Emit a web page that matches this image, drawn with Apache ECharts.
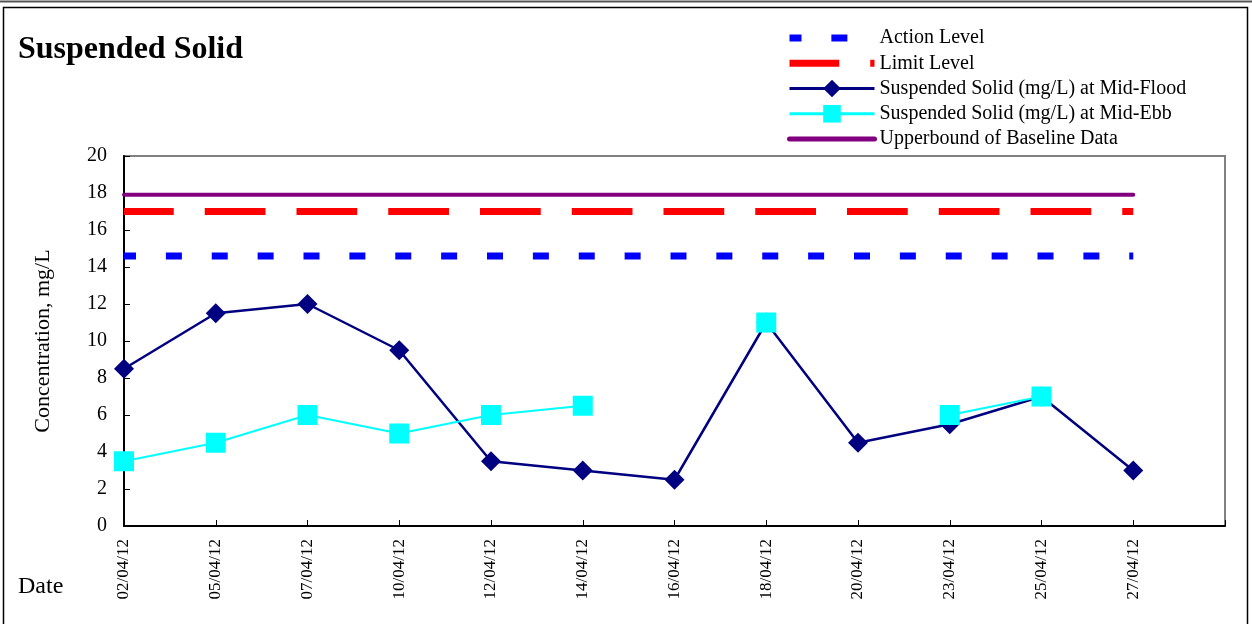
<!DOCTYPE html>
<html>
<head>
<meta charset="utf-8">
<script src="https://cdn.jsdelivr.net/npm/echarts@6/dist/echarts.min.js"></script>
<style>
html,body{margin:0;padding:0;background:#fff;}
#c{width:1252px;height:624px;}
</style>
</head>
<body>
<div id="c"></div>
<script>
var dates = ['02/04/12','05/04/12','07/04/12','10/04/12','12/04/12','14/04/12','16/04/12','18/04/12','20/04/12','23/04/12','25/04/12','27/04/12',''];
var floodValues = [8.5, 11.5, 12, 9.5, 3.5, 3, 2.5, 11, 4.5, 5.5, 7, 3];
var ebbValues = [3.5, 4.5, 6, 5, 6, 6.5, null, 11, null, 6, 7, null];
var actionLevel = [14.6,14.6,14.6,14.6,14.6,14.6,14.6,14.6,14.6,14.6,14.6,14.6];
var limitLevel = [17,17,17,17,17,17,17,17,17,17,17,17];
var baselineUpper = [17.9,17.9,17.9,17.9,17.9,17.9,17.9,17.9,17.9,17.9,17.9,17.9];
var yTicks = {min: 0, max: 20, interval: 2};

var serif = "'Liberation Serif', 'DejaVu Serif', serif";
var chart = echarts.init(document.getElementById('c'));
chart.setOption({
  animation: false,
  backgroundColor: '#fff',
  textStyle: {fontFamily: serif},
  graphic: [
    {type: 'line', shape: {x1: 0, y1: 1.5, x2: 1252, y2: 1.5}, style: {stroke: '#555', lineWidth: 2}, silent: true},
    {type: 'rect', shape: {x: 3.5, y: 7.5, width: 1244, height: 640}, style: {fill: 'none', stroke: '#000', lineWidth: 1.5}, silent: true}
  ],
  title: [
    {text: 'Suspended Solid', left: 13, top: 29, textStyle: {fontFamily: serif, fontSize: 32, fontWeight: 'bold', color: '#000'}},
    {text: 'Date', left: 13, top: 570, textStyle: {fontFamily: serif, fontSize: 24, fontWeight: 'normal', color: '#000'}}
  ],
  legend: {
    orient: 'vertical',
    left: 781,
    top: 23,
    itemWidth: 85,
    itemHeight: 22,
    itemGap: 5.25,
    textStyle: {fontFamily: serif, fontSize: 20, color: '#000'},
    data: [
      {name: 'Action Level', itemStyle: {opacity: 0}, lineStyle: {width: 7}},
      {name: 'Limit Level', itemStyle: {opacity: 0}, lineStyle: {width: 7}},
      {name: 'Suspended Solid (mg/L) at Mid-Flood', lineStyle: {width: 3}},
      {name: 'Suspended Solid (mg/L) at Mid-Ebb', lineStyle: {width: 3}},
      {name: 'Upperbound of Baseline Data', itemStyle: {opacity: 0}, lineStyle: {width: 5, cap: 'round'}}
    ]
  },
  grid: {left: 124, top: 156, right: 27, bottom: 98, show: true, borderColor: '#808080', borderWidth: 2, backgroundColor: 'transparent'},
  xAxis: {
    type: 'category',
    data: dates,
    boundaryGap: false,
    axisLine: {lineStyle: {color: '#000', width: 2}},
    axisTick: {inside: true, length: 6, lineStyle: {color: '#000'}, interval: 0},
    axisLabel: {rotate: 90, interval: 0, margin: 13, fontFamily: serif, fontSize: 17, color: '#000'},
    splitLine: {show: false}
  },
  yAxis: {
    type: 'value',
    min: yTicks.min, max: yTicks.max, interval: yTicks.interval,
    name: 'Concentration, mg/L',
    nameLocation: 'middle',
    nameGap: 70,
    nameRotate: 90,
    nameTextStyle: {fontFamily: serif, fontSize: 22, color: '#000'},
    axisLine: {show: true, lineStyle: {color: '#000', width: 2}},
    axisTick: {show: true, inside: true, length: 6, lineStyle: {color: '#000'}},
    axisLabel: {margin: 17, fontFamily: serif, fontSize: 20, color: '#000'},
    splitLine: {show: false}
  },
  series: [
    {name: 'Action Level', type: 'line', data: actionLevel, symbol: 'none', z: 2,
      lineStyle: {color: '#0000FF', width: 7, type: [16, 29.875], dashOffset: 4, cap: 'butt'}, itemStyle: {color: '#0000FF'}},
    {name: 'Limit Level', type: 'line', data: limitLevel, symbol: 'none', z: 2,
      lineStyle: {color: '#FF0000', width: 7, type: [60.75, 31], dashOffset: 11, cap: 'butt'}, itemStyle: {color: '#FF0000'}},
    {name: 'Upperbound of Baseline Data', type: 'line', data: baselineUpper, symbol: 'none', z: 2,
      lineStyle: {color: '#800080', width: 4, cap: 'round'}, itemStyle: {color: '#800080'}},
    {name: 'Suspended Solid (mg/L) at Mid-Flood', type: 'line', data: floodValues, z: 3,
      symbol: 'diamond', symbolSize: 20,
      lineStyle: {color: '#000080', width: 2.5}, itemStyle: {color: '#000080'}},
    {name: 'Suspended Solid (mg/L) at Mid-Ebb', type: 'line', data: ebbValues, z: 4,
      symbol: 'rect', symbolSize: 20, connectNulls: false,
      lineStyle: {color: '#00FFFF', width: 2}, itemStyle: {color: '#00FFFF'}}
  ]
});
</script>
</body>
</html>
